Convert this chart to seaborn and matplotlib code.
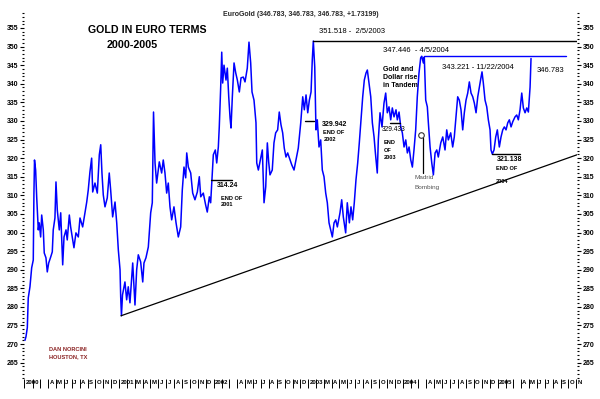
import numpy as np
import pandas as pd
import matplotlib
matplotlib.use("Agg")
import matplotlib.pyplot as plt
import matplotlib.transforms as mtransforms
from matplotlib.ticker import MultipleLocator
import seaborn as sns

# gold price in euro (time as decimal year)
decimal_year = [
    2000.005, 2000.016, 2000.030, 2000.040, 2000.058, 2000.076, 2000.093, 2000.100, 2000.106, 2000.118,
    2000.129, 2000.146, 2000.156, 2000.171, 2000.182, 2000.199, 2000.209, 2000.227, 2000.241, 2000.256,
    2000.277, 2000.294, 2000.304, 2000.322, 2000.333, 2000.347, 2000.368, 2000.383, 2000.404, 2000.418,
    2000.439, 2000.452, 2000.474, 2000.488, 2000.510, 2000.523, 2000.544, 2000.569, 2000.587, 2000.615,
    2000.640, 2000.658, 2000.674, 2000.692, 2000.710, 2000.721, 2000.745, 2000.770, 2000.791, 2000.806,
    2000.819, 2000.833, 2000.851, 2000.875, 2000.896, 2000.911, 2000.932, 2000.957, 2000.975, 2000.992,
    2001.010, 2001.017, 2001.025, 2001.036, 2001.062, 2001.080, 2001.097, 2001.115, 2001.144, 2001.168,
    2001.186, 2001.203, 2001.228, 2001.250, 2001.263, 2001.284, 2001.309, 2001.334, 2001.351, 2001.364,
    2001.380, 2001.397, 2001.425, 2001.450, 2001.467, 2001.485, 2001.503, 2001.520, 2001.538, 2001.556,
    2001.580, 2001.602, 2001.626, 2001.651, 2001.668, 2001.686, 2001.704, 2001.715, 2001.732, 2001.757,
    2001.778, 2001.802, 2001.827, 2001.848, 2001.863, 2001.890, 2001.915, 2001.932, 2001.954, 2001.968,
    2001.982, 2001.996, 2002.017, 2002.032, 2002.049, 2002.059, 2002.074, 2002.085, 2002.095, 2002.109,
    2002.130, 2002.144, 2002.159, 2002.173, 2002.183, 2002.197, 2002.215, 2002.233, 2002.250, 2002.271,
    2002.289, 2002.313, 2002.331, 2002.355, 2002.373, 2002.391, 2002.405, 2002.426, 2002.447, 2002.455,
    2002.472, 2002.489, 2002.514, 2002.532, 2002.550, 2002.567, 2002.581, 2002.595, 2002.619, 2002.637,
    2002.655, 2002.676, 2002.693, 2002.711, 2002.729, 2002.746, 2002.764, 2002.782, 2002.807, 2002.825,
    2002.849, 2002.870, 2002.894, 2002.920, 2002.941, 2002.958, 2002.976, 2002.994, 2003.011, 2003.029,
    2003.042, 2003.053, 2003.068, 2003.081, 2003.095, 2003.113, 2003.131, 2003.148, 2003.166, 2003.184,
    2003.201, 2003.219, 2003.237, 2003.254, 2003.272, 2003.290, 2003.307, 2003.335, 2003.353, 2003.370,
    2003.395, 2003.412, 2003.434, 2003.451, 2003.469, 2003.486, 2003.504, 2003.522, 2003.539, 2003.557,
    2003.575, 2003.592, 2003.610, 2003.624, 2003.642, 2003.660, 2003.677, 2003.695, 2003.709, 2003.729,
    2003.740, 2003.758, 2003.779, 2003.800, 2003.818, 2003.835, 2003.853, 2003.871, 2003.888, 2003.906,
    2003.927, 2003.941, 2003.959, 2003.977, 2003.994, 2004.012, 2004.030, 2004.047, 2004.065, 2004.083,
    2004.100, 2004.117, 2004.135, 2004.152, 2004.170, 2004.188, 2004.199, 2004.216, 2004.226, 2004.241,
    2004.258, 2004.269, 2004.287, 2004.305, 2004.322, 2004.340, 2004.358, 2004.374, 2004.400, 2004.421,
    2004.445, 2004.463, 2004.480, 2004.505, 2004.526, 2004.543, 2004.561, 2004.579, 2004.596, 2004.614,
    2004.632, 2004.649, 2004.667, 2004.685, 2004.702, 2004.720, 2004.738, 2004.755, 2004.773, 2004.791,
    2004.808, 2004.826, 2004.836, 2004.850, 2004.868, 2004.886, 2004.903, 2004.921, 2004.931, 2004.945,
    2004.963, 2004.981, 2004.998, 2005.019, 2005.037, 2005.055, 2005.072, 2005.090, 2005.108, 2005.125,
    2005.143, 2005.161, 2005.185, 2005.203, 2005.220, 2005.238, 2005.256, 2005.273, 2005.291, 2005.309,
    2005.326, 2005.344, 2005.354,
]
price = [
    271.0, 272.0, 274.4, 282.4, 285.4, 290.5, 292.6, 310.6, 319.5, 316.8,
    309.6, 300.7, 302.6, 298.8, 304.7, 300.7, 294.5, 293.2, 289.4, 291.8,
    293.4, 294.8, 300.7, 303.9, 313.6, 306.0, 300.7, 305.3, 291.3, 298.8,
    300.7, 298.0, 304.7, 301.5, 298.0, 295.9, 299.9, 298.8, 303.9, 301.5,
    305.5, 308.2, 311.4, 316.3, 320.0, 310.9, 313.3, 310.6, 320.9, 323.6,
    316.0, 310.1, 306.9, 309.3, 316.0, 311.4, 304.2, 308.2, 302.6, 295.3,
    290.0, 282.7, 277.6, 283.2, 286.7, 281.9, 285.4, 281.1, 291.8, 280.5,
    290.0, 294.0, 292.1, 286.7, 291.8, 293.2, 296.1, 305.3, 308.0, 332.4,
    318.7, 313.3, 319.0, 316.0, 319.5, 316.0, 310.6, 313.3, 306.9, 303.4,
    306.9, 302.6, 298.8, 301.5, 311.4, 317.6, 314.7, 321.4, 317.6, 316.0,
    310.6, 308.8, 310.9, 315.0, 309.6, 310.6, 307.4, 305.5, 309.6, 308.0,
    314.2, 320.9, 322.2, 318.7, 323.0, 328.4, 339.1, 348.5, 340.2, 345.0,
    341.0, 344.2, 336.5, 330.8, 328.1, 336.5, 345.6, 342.9, 341.0, 337.8,
    341.6, 341.8, 340.5, 344.2, 351.2, 345.6, 337.8, 335.6, 329.5, 318.7,
    316.8, 319.0, 322.2, 308.0, 312.3, 324.1, 319.0, 315.5, 316.8, 324.1,
    326.8, 327.6, 332.4, 329.0, 326.8, 322.7, 320.3, 321.4, 319.5, 318.2,
    316.8, 319.5, 322.7, 329.5, 336.5, 333.0, 337.0, 332.2, 335.6, 337.8,
    346.4, 351.5, 344.5, 327.6, 330.3, 323.0, 324.9, 316.8, 315.0, 310.6,
    308.0, 302.6, 300.7, 298.8, 302.6, 303.4, 301.5, 305.3, 308.8, 304.2,
    299.9, 308.0, 302.6, 306.9, 303.4, 308.0, 314.2, 318.7, 324.1, 330.3,
    336.5, 341.0, 342.9, 343.7, 340.2, 336.5, 329.5, 325.7, 321.4, 316.0,
    324.9, 332.2, 328.4, 334.8, 337.5, 332.2, 333.8, 330.3, 333.5, 331.1,
    333.0, 330.3, 332.4, 328.4, 326.8, 323.0, 324.9, 321.4, 323.0, 319.5,
    317.6, 322.2, 327.6, 336.5, 342.9, 347.0, 347.4, 345.6, 347.2, 335.6,
    333.8, 329.5, 323.0, 318.7, 315.5, 321.4, 322.2, 320.3, 324.1, 325.7,
    322.2, 327.6, 324.9, 326.8, 323.0, 325.7, 331.1, 336.5, 335.6, 333.0,
    327.6, 332.2, 335.6, 337.5, 340.5, 337.5, 336.5, 334.8, 332.2, 336.5,
    339.1, 341.8, 343.2, 340.2, 335.6, 333.8, 330.3, 327.6, 322.2, 321.1,
    322.2, 325.7, 327.6, 323.0, 325.7, 327.6, 328.4, 327.6, 329.5, 330.3,
    328.4, 329.8, 331.1, 331.6, 330.3, 333.0, 337.5, 333.5, 332.2, 333.5,
    332.4, 339.1, 346.8,
]

month_labels = [
    "2000", "", "", "A", "M", "J", "J", "A", "S", "O", "N", "D",
    "2001", "", "M", "A", "M", "J", "J", "A", "S", "O", "N", "D",
    "2002", "", "", "A", "M", "J", "J", "A", "S", "O", "N", "D",
    "2003", "", "M", "A", "M", "J", "J", "A", "S", "O", "N", "D",
    "2004", "", "", "A", "M", "J", "J", "A", "S", "O", "N", "D",
    "2005", "", "", "A", "M", "J", "J", "A", "S", "O", "N",
]

trend_years = [2001.020, 2005.84]
trend_prices = [277.6, 320.9]


def d(t):
    return pd.Timestamp("2000-01-01") + pd.Timedelta(days=(t - 2000.0) * 365.25)


sns.set_style("white")
plt.rcParams["font.family"] = ["Liberation Sans", "DejaVu Sans"]

df = pd.DataFrame({"date": [d(t) for t in decimal_year], "price": price})

fig = plt.figure(figsize=(6, 3.99), dpi=100)
ax = fig.add_axes([0.04, 1 - 379 / 399, 553 / 600, 369 / 399])
sns.lineplot(data=df, x="date", y="price", ax=ax, color="#0000ff", lw=1.1,
             estimator=None, sort=False)

ax.set_xlim(d(1999.995), d(2005.84))
ax.set_ylim(260.6, 359.84)
ax.set_xlabel("")
ax.set_ylabel("")
for s in ax.spines.values():
    s.set_visible(False)

# y axis: labels both sides, dense minor ticks
ax.yaxis.set_major_locator(MultipleLocator(5))
ax.yaxis.set_minor_locator(MultipleLocator(1))
ax.tick_params(axis="y", which="both", left=True, right=True,
               labelleft=True, labelright=True, direction="out", colors="black")
ax.tick_params(axis="y", which="major", length=3, width=0.8, pad=1, labelsize=5)
ax.tick_params(axis="y", which="minor", length=1.5, width=0.8)
for lab in ax.get_yticklabels(which="both"):
    lab.set_fontweight("bold")

# x axis: month ticks with labels to the right of each tick
ticks = pd.date_range("2000-01-01", periods=len(month_labels), freq="MS")
ax.set_xticks(ticks)
ax.set_xticklabels(month_labels)
ax.tick_params(axis="x", which="major", bottom=True, length=6.5, width=0.7,
               pad=-5.8, labelsize=4.3, direction="out", colors="black")
shift = mtransforms.ScaledTranslation(1.3 / 100, 0, fig.dpi_scale_trans)
for lab in ax.get_xticklabels():
    lab.set_horizontalalignment("left")
    lab.set_fontweight("bold")
    lab.set_transform(lab.get_transform() + shift)

# trend line and reference levels
ax.plot([d(t) for t in trend_years], trend_prices, color="black", lw=0.9)
ax.plot([d(2003.053), d(2005.84)], [351.518, 351.518], color="black", lw=1)
ax.plot([d(2004.223), d(2005.724)], [347.446, 347.446], color="#0000ff", lw=1)
ax.plot([d(2002.965), d(2003.060)], [329.942, 329.942], color="black", lw=1)
ax.plot([d(2003.864), d(2003.969)], [329.433, 329.433], color="black", lw=1)
ax.plot([d(2001.972), d(2002.193)], [314.24, 314.24], color="black", lw=1)
ax.plot([d(2004.942), d(2005.238)], [321.138, 321.138], color="black", lw=1)

# Madrid bombing marker
ax.plot(d(2004.186), 326.1, marker="o", ms=4, mfc="white", mec="#333333", mew=0.8)
ax.plot([d(2004.216), d(2004.216)], [325.3, 316.0], color="black", lw=0.9)

txt = dict(ha="left", va="center", color="black")
ax.text(d(2002.926), 358.76, "EuroGold (346.783, 346.783, 346.783, +1.73199)",
        fontsize=5, fontweight="bold", ha="center", va="center")
ax.text(d(2000.671), 354.33, "GOLD IN EURO TERMS", fontsize=7.7, fontweight="bold", **txt)
ax.text(d(2000.872), 350.56, "2000-2005", fontsize=7.7, fontweight="bold", **txt)
ax.text(d(2003.113), 354.06, "351.518 -  2/5/2003", fontsize=5.5, **txt)
ax.text(d(2003.790), 348.82, "347.446  - 4/5/2004", fontsize=5.5, **txt)
ax.text(d(2004.413), 344.25, "343.221 - 11/22/2004", fontsize=5.5, **txt)
ax.text(d(2005.418), 343.44, "346.783", fontsize=5.5, **txt)
ax.text(d(2003.790), 343.84, "Gold and", fontsize=5, fontweight="bold", **txt)
ax.text(d(2003.790), 341.64, "Dollar rise", fontsize=5, fontweight="bold", **txt)
ax.text(d(2003.790), 339.54, "in Tandem", fontsize=5, fontweight="bold", **txt)

ax.text(d(2003.140), 329.1, "329.942", fontsize=5, fontweight="bold", **txt)
ax.text(d(2003.156), 327.0, "END OF", fontsize=4.1, fontweight="bold", **txt)
ax.text(d(2003.166), 325.1, "2002", fontsize=4.1, fontweight="bold", **txt)

ax.text(d(2003.774), 327.6, "329.433", fontsize=4.8, **txt)
ax.text(d(2003.800), 324.1, "END", fontsize=4.1, fontweight="bold", **txt)
ax.text(d(2003.800), 322.1, "OF", fontsize=4.1, fontweight="bold", **txt)
ax.text(d(2003.800), 320.2, "2003", fontsize=4.1, fontweight="bold", **txt)

ax.text(d(2004.118), 314.76, "Madrid", fontsize=4.6, color="#555555", ha="left", va="center")
ax.text(d(2004.118), 312.18, "Bombing", fontsize=4.6, color="#555555", ha="left", va="center")

ax.text(d(2002.035), 312.6, "314.24", fontsize=5, fontweight="bold", **txt)
ax.text(d(2002.077), 309.1, "END OF", fontsize=4.1, fontweight="bold", **txt)
ax.text(d(2002.077), 307.4, "2001", fontsize=4.1, fontweight="bold", **txt)

ax.text(d(2004.995), 319.6, "321.138", fontsize=5, fontweight="bold", **txt)
ax.text(d(2004.984), 317.3, "END OF", fontsize=4.1, fontweight="bold", **txt)
ax.text(d(2004.984), 313.6, "2004", fontsize=4.1, fontweight="bold", **txt)

ax.text(d(2000.259), 268.44, "DAN NORCINI", fontsize=4.1, fontweight="bold", color="#8b2323", **{k: v for k, v in txt.items() if k != "color"})
ax.text(d(2000.259), 266.56, "HOUSTON, TX", fontsize=4.1, fontweight="bold", color="#8b2323", **{k: v for k, v in txt.items() if k != "color"})

fig.savefig("out.png", dpi=100)
